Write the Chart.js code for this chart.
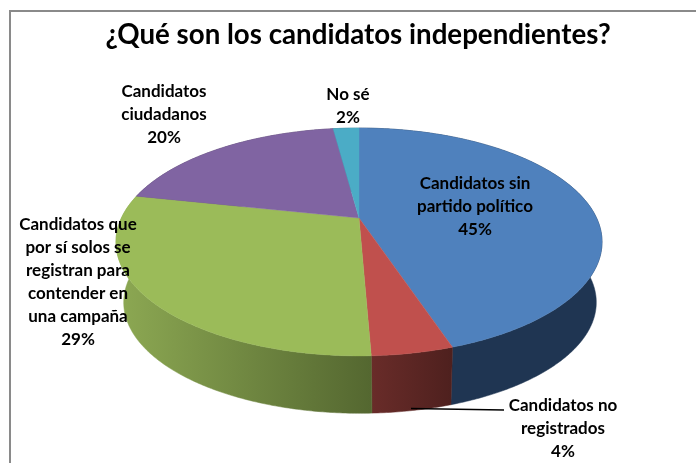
<!DOCTYPE html>
<html lang="es">
<head>
<meta charset="utf-8">
<style>html,body{margin:0;padding:0;background:#fff}canvas{display:block}</style>
<script src="https://cdn.jsdelivr.net/npm/chart.js@4"></script>
</head>
<body>
<canvas id="c" width="696" height="463"></canvas>
<script>
const chartTitle = '¿Qué son los candidatos independientes?';
const categories = ['Candidatos sin partido político','Candidatos no registrados','Candidatos que por sí solos se registran para contender en una campaña','Candidatos ciudadanos','No sé'];
const values = [44.9,4.45,29,19.55,2.1];
const topColors = ['#4F81BD','#C0504D','#9BBB59','#8064A2','#4BACC6'];
const sideColors = [['#1F3552','#1F3552'],['#692C29','#4E201E'],['#8DA953','#546730'],['#4D3C62','#4D3C62'],['#2A6A7C','#2A6A7C']];
const labelLines = [['Candidatos sin','partido político'],['Candidatos no','registrados'],['Candidatos que','por sí solos se','registran para','contender en','una campaña'],['Candidatos','ciudadanos'],['No sé']];
const labelAnchors = [[475,184],[563,406],[78,225],[164,92],[348,95]];
const lineStep = 23;

// Perspective view of the pie's circular faces
const view = {tilt:0.2105,
  top:{cx:359,y0:218,a:237.6,b:108.9},
  base:{cx:360,y0:279,a:231,b:106}};
function project(face, theta){
  const u=Math.sin(theta), v=Math.cos(theta), w=1+view.tilt*v;
  return [face.cx+face.a*u/w, face.y0-face.b*v/w];
}
function arcPoints(face,from,to){
  const n=Math.max(2,Math.ceil((to-from)/0.01)), pts=[];
  for(let i=0;i<=n;i++) pts.push(project(face,from+(to-from)*i/n));
  return pts;
}
const pie3d = {
  id:'pie3d',
  beforeDraw(chart){
    const c=chart.ctx; c.save();
    c.fillStyle='#fff'; c.fillRect(0,0,696,463);
    c.fillStyle='#8A8A8A'; c.fillRect(9,10,2,453); c.fillRect(9,10,687,2);
    c.restore();
  },
  beforeDatasetDraw(chart){
    const c=chart.ctx, arcs=chart.getDatasetMeta(0).data;
    const angs=arcs.map(a=>[a.startAngle+Math.PI/2,a.endAngle+Math.PI/2]);
    c.save();
    angs.forEach(([s,e],i)=>{
      const t=arcPoints(view.top,s,e), b=arcPoints(view.base,s,e).reverse();
      const xs=t.concat(b).map(p=>p[0]);
      const g=c.createLinearGradient(Math.min(...xs),0,Math.max(...xs),0);
      g.addColorStop(0,sideColors[i][0]); g.addColorStop(1,sideColors[i][1]);
      c.fillStyle=g; c.strokeStyle=g; c.lineWidth=0.5;
      c.beginPath();
      t.concat(b).forEach((p,k)=>k?c.lineTo(p[0],p[1]):c.moveTo(p[0],p[1]));
      c.closePath(); c.fill(); c.stroke();
    });
    angs.forEach(([s,e],i)=>{
      c.fillStyle=topColors[i]; c.strokeStyle=topColors[i]; c.lineWidth=0.4;
      c.beginPath(); c.moveTo(view.top.cx,view.top.y0);
      arcPoints(view.top,s,e).forEach(p=>c.lineTo(p[0],p[1]));
      c.closePath(); c.fill(); c.stroke();
    });
    c.restore();
    return false;
  },
  afterDatasetsDraw(chart){
    const c=chart.ctx;
    c.save();
    c.strokeStyle='#000'; c.lineWidth=1.3;
    c.beginPath(); c.moveTo(411,408.5); c.lineTo(504,410); c.stroke();
    c.fillStyle='#000'; c.font='bold 17px Lato'; c.textAlign='center'; c.textBaseline='middle';
    labelLines.forEach((lines,i)=>{
      const [x,y]=labelAnchors[i];
      lines.concat(Math.round(values[i])+'%').forEach((t,k)=>c.fillText(t,x,y+k*lineStep));
    });
    c.restore();
  }
};
new Chart(document.getElementById('c'),{
  type:'pie',
  data:{labels:categories,datasets:[{data:values,backgroundColor:topColors}]},
  options:{
    responsive:false,animation:false,
    layout:{padding:{left:20}},
    plugins:{
      legend:{display:false},tooltip:{enabled:false},
      title:{display:true,text:chartTitle,color:'#000',font:{family:'Lato',size:27.7,weight:'bold'},padding:{top:18,bottom:10}}
    }
  },
  plugins:[pie3d]
});
</script>
</body>
</html>
